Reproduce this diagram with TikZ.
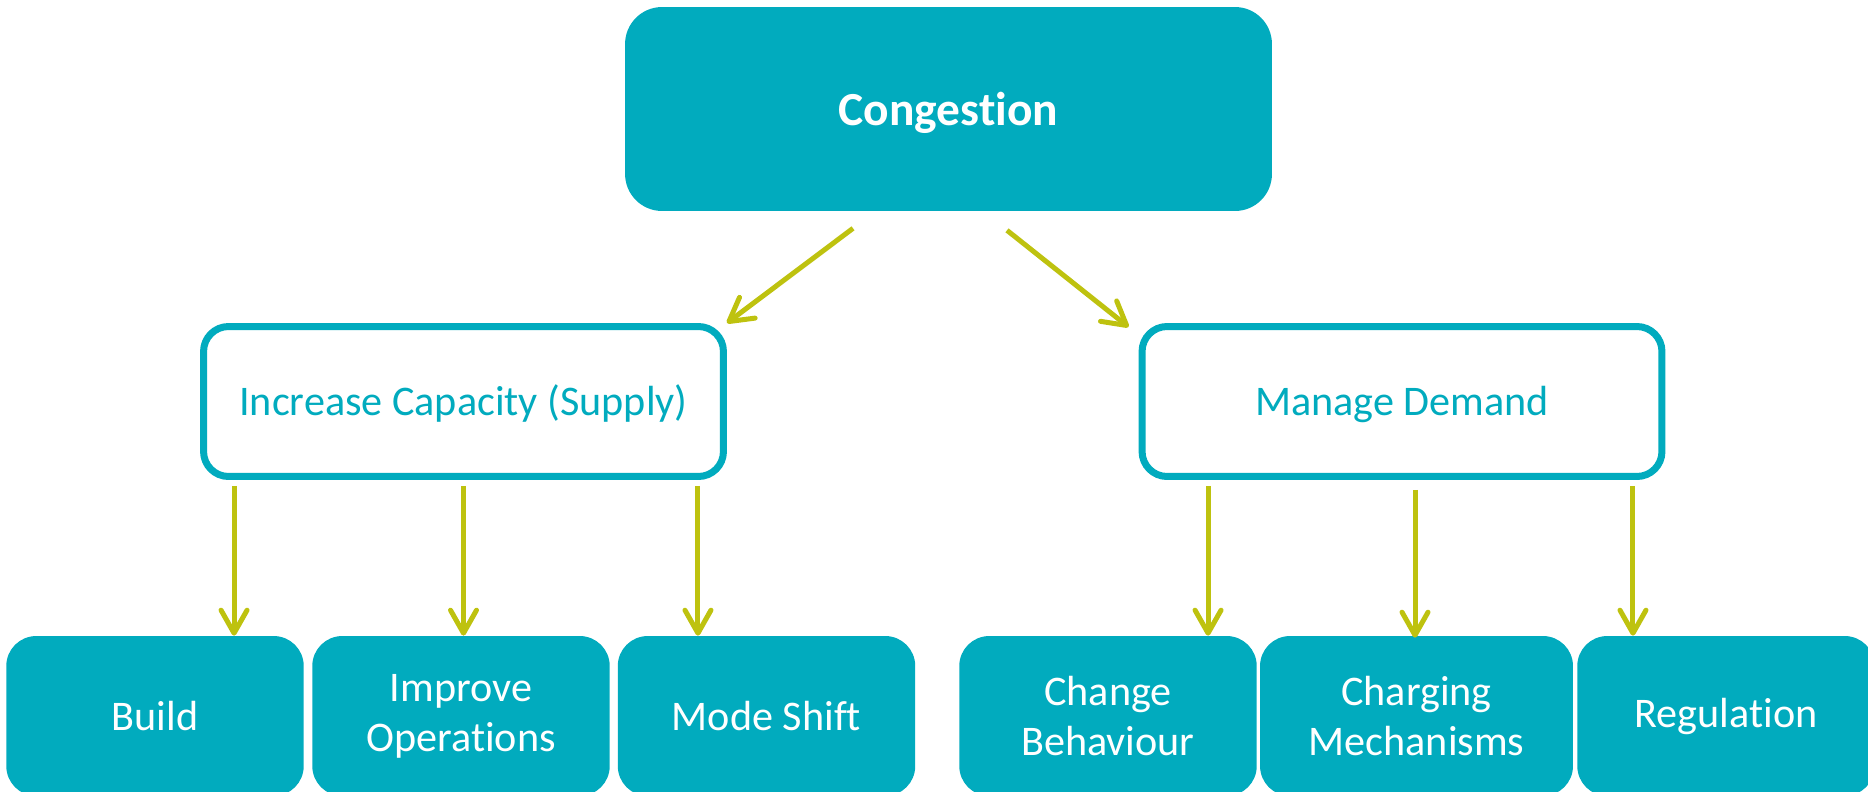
\documentclass[tikz,border=0pt]{standalone}
\usepackage{fontspec}
\setmainfont[Ligatures={NoCommon}, RawFeature={-liga;-clig;-calt;-dlig}]{Carlito}
\usetikzlibrary{arrows.meta}
\definecolor{cgteal}{RGB}{1,171,190}
\definecolor{cgolive}{RGB}{190,194,15}
\tikzset{
  topbox/.style={fill=cgteal, rounded corners=0.74cm, minimum width=12.94cm,
    minimum height=4.08cm, text=white, text height=25.7pt, text depth=7.3pt,
    font=\bfseries\fontsize{27}{32}\selectfont},
  midbox/.style={draw=cgteal, line width=0.14cm, fill=white, rounded corners=0.5cm,
    minimum width=10.4cm, minimum height=3cm, text=cgteal,
    text height=22.85pt, text depth=6.46pt,
    font=\fontsize{24}{28.5}\selectfont},
  leafbox/.style={fill=cgteal, rounded corners=0.6cm, minimum width=5.95cm,
    minimum height=3.2cm, text=white, align=center,
    font=\fontsize{24}{28.5}\selectfont},
  flowarrow/.style={draw=cgolive, line width=0.1cm,
    -{Straight Barb[length=0.46cm,width=0.52cm,round]}},
}
\begin{document}
\begin{tikzpicture}[x=0.02cm, y=-0.02cm]
    \useasboundingbox (0,0) rectangle (1868,791);
    \node[topbox] (A0_0) at (948.5,109) {Congestion};
    \node[midbox] (A1_0) at (463.5,401.5) {Increase Capacity (Supply)};
    \node[midbox] (A1_1) at (1402,401.5) {Manage Demand};
    \node[leafbox] (A2_0) at (155,716) {Build};
    \node[leafbox] (A2_1) at (461,716) {Improve\\Operations};
    \node[leafbox] (A2_2) at (766.5,716) {Mode Shift};
    \node[leafbox] (A2_3) at (1108,716) {Change\\Behaviour};
    \node[leafbox, minimum width=6.26cm] (A2_4) at (1416.5,716) {Charging\\Mechanisms};
    \node[leafbox] (A2_5) at (1726,716) {Regulation};
    \path ([xshift=-1.91cm,yshift=-0.34cm]A0_0.south) edge [flowarrow] (A1_0.north east);
    \path ([xshift=1.17cm,yshift=-0.38cm]A0_0.south) edge [flowarrow] ([xshift=-0.2cm,yshift=-0.08cm]A1_1.north west);
    \path ([xshift=-4.59cm,yshift=-0.12cm]A1_0.south) edge [flowarrow] ([xshift=-4.59cm]A1_0.south |- A2_0.north);
    \path ([yshift=-0.12cm]A1_0.south) edge [flowarrow] (A1_0.south |- A2_1.north);
    \path ([xshift=4.69cm,yshift=-0.12cm]A1_0.south) edge [flowarrow] ([xshift=4.69cm]A1_0.south |- A2_2.north);
    \path ([xshift=-3.88cm,yshift=-0.12cm]A1_1.south) edge [flowarrow] ([xshift=-3.88cm]A1_1.south |- A2_3.north);
    \path ([xshift=0.26cm,yshift=-0.2cm]A1_1.south) edge [flowarrow] ([xshift=0.26cm,yshift=-0.04cm]A1_1.south |- A2_4.north);
    \path ([xshift=4.62cm,yshift=-0.12cm]A1_1.south) edge [flowarrow] ([xshift=4.62cm]A1_1.south |- A2_5.north);
  \end{tikzpicture}
\end{document}
